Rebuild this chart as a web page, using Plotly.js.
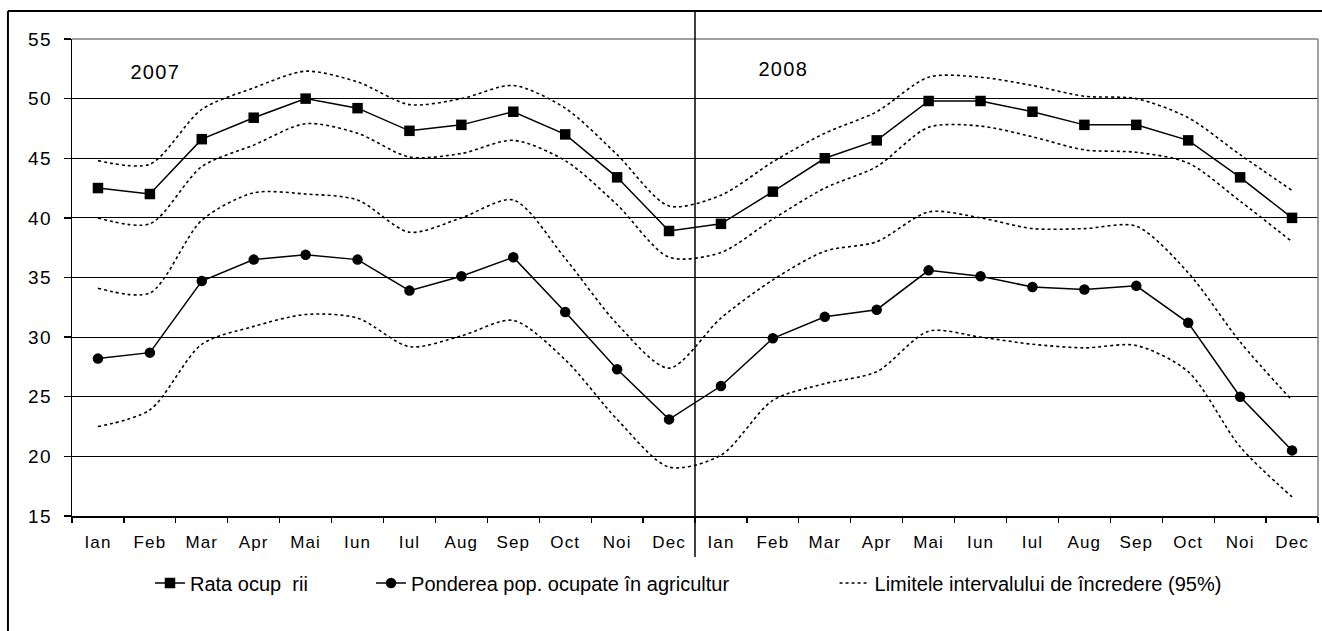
<!DOCTYPE html>
<html>
<head>
<meta charset="utf-8">
<script src="https://cdn.plot.ly/plotly-3.0.1.min.js"></script>
<style>
html,body{margin:0;padding:0;background:#fff;}
#chart{width:1322px;height:631px;}
#chart .xtick text, #chart .ytick text, #chart .annotation-text{letter-spacing:0.065em;}
</style>
</head>
<body>
<div id="chart"></div>
<script>
// ---- data ----
var months = ["Ian","Feb","Mar","Apr","Mai","Iun","Iul","Aug","Sep","Oct","Noi","Dec",
              "Ian","Feb","Mar","Apr","Mai","Iun","Iul","Aug","Sep","Oct","Noi","Dec"];
var years = ["2007", "2008"];
var rataOcupare = [42.5,42.0,46.6,48.4,50.0,49.2,47.3,47.8,48.9,47.0,43.4,38.9,
                   39.5,42.2,45.0,46.5,49.8,49.8,48.9,47.8,47.8,46.5,43.4,40.0];
var rataUpper   = [44.8,44.5,49.1,50.9,52.3,51.4,49.5,50.0,51.1,49.2,45.3,41.0,
                   41.9,44.7,47.1,48.9,51.8,51.8,51.1,50.2,50.0,48.4,45.3,42.3];
var rataLower   = [40.0,39.5,44.3,46.1,47.9,47.1,45.1,45.4,46.5,44.8,41.1,36.7,
                   37.1,39.9,42.5,44.3,47.6,47.7,46.8,45.7,45.5,44.6,41.4,38.0];
var pondereAgr  = [28.2,28.7,34.7,36.5,36.9,36.5,33.9,35.1,36.7,32.1,27.3,23.1,
                   25.9,29.9,31.7,32.3,35.6,35.1,34.2,34.0,34.3,31.2,25.0,20.5];
var pondUpper   = [34.1,33.7,39.8,42.1,42.0,41.5,38.8,40.0,41.5,36.6,31.1,27.4,
                   31.6,34.8,37.2,38.0,40.5,40.0,39.1,39.1,39.3,35.4,29.6,24.7];
var pondLower   = [22.5,23.9,29.4,30.9,31.9,31.6,29.2,30.1,31.4,28.1,23.1,19.1,
                   20.1,24.7,26.1,27.1,30.5,30.0,29.4,29.1,29.3,27.1,20.8,16.6];
var yTicks = [15,20,25,30,35,40,45,50,55];
var legendNames = ["Rata ocup  rii", "Ponderea pop. ocupate în agricultur", "Limitele intervalului de încredere (95%)"];

// ---- build ----
var xs = months.map(function(_, i){ return i; });
var bounds = [];
for (var i = 0; i <= months.length; i++) bounds.push(i - 0.5);

var dotStyle = {color:"#000", width:1.6, dash:"dot", shape:"spline", smoothing:0.8};
function ci(y, show){
  return {x: xs, y: y, xaxis:"x2", yaxis:"y", mode:"lines", line: dotStyle, legend:"legend3",
          name: legendNames[2], legendgroup:"ci", showlegend: show, hoverinfo:"skip"};
}
var traces = [
  {x: xs, y: rataOcupare, mode:"lines+markers", name: legendNames[0], legend:"legend",
   line:{color:"#000", width:1.5}, marker:{symbol:"square", size:10.5, color:"#000"}},
  {x: xs, y: pondereAgr, mode:"lines+markers", name: legendNames[1], legend:"legend2",
   line:{color:"#000", width:1.5}, marker:{symbol:"circle", size:10.5, color:"#000"}},
  ci(rataUpper, true), ci(rataLower, false), ci(pondUpper, false), ci(pondLower, false)
];

var font = "Liberation Sans, Arial, sans-serif";
function leg(x){
  return {orientation:"h", x:x, xanchor:"left", y:-0.1405, yanchor:"middle",
          font:{family:font, size:20, color:"#000"}, bgcolor:"rgba(0,0,0,0)", itemwidth:30};
}
var layout = {
  width:1322, height:631,
  margin:{l:72, r:4, t:39, b:115},
  paper_bgcolor:"#fff", plot_bgcolor:"#fff",
  showlegend:true,
  font:{family:font, color:"#000"},
  xaxis:{range:[-0.5, 23.5], tickmode:"array", tickvals: xs, ticktext: months,
         ticks:"", showgrid:false, zeroline:false, showline:true, linecolor:"#000", linewidth:1.5,
         ticklabelstandoff:10,
         tickfont:{family:font, size:17, color:"#000"}, fixedrange:true},
  xaxis2:{range:[-0.5, 23.5], overlaying:"x", anchor:"y", side:"bottom",
          tickmode:"array", tickvals: bounds, ticks:"outside", ticklen:6, tickwidth:1.3,
          tickcolor:"#000", showticklabels:false, showgrid:false, zeroline:false, showline:false},
  yaxis:{range:[15, 55], tickmode:"array", tickvals: yTicks, ticks:"outside", ticklen:7,
         tickwidth:1.3, tickcolor:"#000", showgrid:true, gridcolor:"#000", gridwidth:1,
         zeroline:false, showline:true, linecolor:"#000", linewidth:1.5, ticklabelstandoff:8,
         tickfont:{family:font, size:19, color:"#000"}, fixedrange:true},
  legend: leg(0.0626),
  legend2: leg(0.240),
  legend3: leg(0.612),
  annotations:[
    {x:1.1, xref:"x", y:52.23, yref:"y", text:years[0], showarrow:false, font:{family:font, size:20, color:"#000"}},
    {x:13.2, xref:"x", y:52.48, yref:"y", text:years[1], showarrow:false, font:{family:font, size:20, color:"#000"}}
  ],
  shapes:[
    {type:"line", xref:"paper", yref:"paper", x0:-0.0514, x1:1.05, y0:1.0587, y1:1.0587, line:{color:"#000", width:2}},
    {type:"line", xref:"paper", yref:"paper", x0:-0.0514, x1:-0.0514, y0:1.0587, y1:-0.3, line:{color:"#000", width:2}},
    {type:"line", xref:"paper", yref:"paper", x0:0, x1:1, y0:1, y1:1, line:{color:"#808080", width:1.5}},
    {type:"line", xref:"paper", yref:"paper", x0:1, x1:1, y0:0, y1:1, line:{color:"#808080", width:1.5}},
    {type:"line", xref:"x", yref:"paper", x0:11.5, x1:11.5, y0:1.0587, y1:-0.086, line:{color:"#000", width:1.5}}
  ]
};
Plotly.newPlot("chart", traces, layout, {displayModeBar:false, staticPlot:true});
</script>
</body>
</html>
